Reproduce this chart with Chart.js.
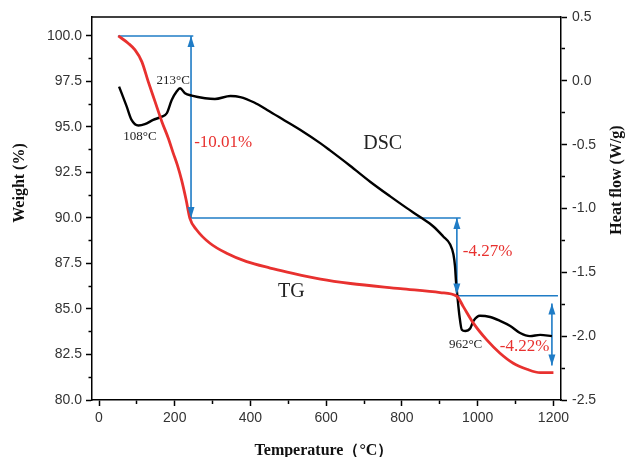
<!DOCTYPE html>
<html>
<head>
<meta charset="utf-8">
<script src="https://cdn.jsdelivr.net/npm/chart.js@4.4.1/dist/chart.umd.min.js"></script>
<style>
  body { margin: 0; background: #fff; }
</style>
</head>
<body>
<canvas id="tgCanvas" width="629" height="457"></canvas>
<script>
// TG curve (weight %, left axis)
var tgTemp = [51, 77, 95, 113, 130, 148, 166, 183, 196, 207, 218, 230, 240, 258, 293, 337, 390, 452, 497, 585, 664, 796, 901, 945, 962, 989, 1024, 1059, 1094, 1130, 1165, 1200];
var tgWeight = [100, 99.6, 99.23, 98.59, 97.49, 96.39, 95.29, 94.38, 93.56, 92.9, 92.09, 91.0, 89.98, 89.34, 88.61, 88.06, 87.6, 87.25, 87.03, 86.64, 86.4, 86.12, 85.9, 85.7, 85.13, 84.21, 83.3, 82.57, 82.02, 81.69, 81.5, 81.5];

// DSC curve (heat flow W/g, right axis)
var dscTemp = [53, 73, 86, 104, 121, 143, 166, 179, 192, 205, 214, 227, 245, 280, 306, 347, 373, 410, 444, 490, 532, 585, 610, 663, 716, 769, 813, 848, 883, 909, 927, 936, 940, 943, 946.5, 952, 958, 967, 980, 989, 1006, 1033, 1059, 1086, 1112, 1138, 1165, 1196];
var dscHeat = [-0.045, -0.2, -0.306, -0.35, -0.34, -0.306, -0.28, -0.254, -0.15, -0.084, -0.058, -0.097, -0.116, -0.136, -0.142, -0.119, -0.127, -0.17, -0.228, -0.31, -0.385, -0.49, -0.545, -0.665, -0.79, -0.905, -0.997, -1.067, -1.141, -1.219, -1.28, -1.36, -1.45, -1.58, -1.69, -1.845, -1.95, -1.96, -1.94, -1.88, -1.84, -1.85, -1.88, -1.92, -1.975, -2.0, -1.99, -2.0];

// weight loss steps (blue guides)
var stepLevel = [100, 90, 85.73];
var stepStart = [50, 243, 945];
var stepEnd = [249, 955, 1212];
var arrowTemp = [243, 945, 1196];
var arrowTop = [100, 90, 85.3];
var arrowBottom = [90, 85.8, 81.9];

var lossLabels = ['-10.01%', '-4.27%', '-4.22%'];
var peakLabels = ['108°C', '213°C', '962°C'];
var curveLabels = ['TG', 'DSC'];

var RED = '#e8312f';
var BLUE = '#1f7cc6';

function zip(xs, ys) {
  return xs.map(function (x, i) { return { x: x, y: ys[i] }; });
}

var datasets = [
  { data: zip(tgTemp, tgWeight), yAxisID: 'y', borderColor: RED, borderWidth: 2.8, pointRadius: 0, cubicInterpolationMode: 'monotone' },
  { data: zip(dscTemp, dscHeat), yAxisID: 'y2', borderColor: '#000', borderWidth: 2.4, pointRadius: 0, cubicInterpolationMode: 'monotone' }
];
stepLevel.forEach(function (lv, i) {
  datasets.push({ data: [{ x: stepStart[i], y: lv }, { x: stepEnd[i], y: lv }], yAxisID: 'y', borderColor: BLUE, borderWidth: 1.6, pointRadius: 0 });
  datasets.push({ data: [{ x: arrowTemp[i], y: arrowTop[i] }, { x: arrowTemp[i], y: arrowBottom[i] }], yAxisID: 'y', borderColor: BLUE, borderWidth: 1.6, pointRadius: 0 });
});

// annotation text placement (temperature, weight)
var notes = [
  { t: peakLabels[0], x: 108, y: 94.45, c: '#222', f: '13px "Liberation Serif"' },
  { t: peakLabels[1], x: 196, y: 97.53, c: '#222', f: '13px "Liberation Serif"' },
  { t: peakLabels[2], x: 968, y: 83.02, c: '#222', f: '13px "Liberation Serif"' },
  { t: lossLabels[0], x: 328, y: 94.12, c: RED, f: '17px "Liberation Serif"' },
  { t: lossLabels[1], x: 1026, y: 88.13, c: RED, f: '17px "Liberation Serif"' },
  { t: lossLabels[2], x: 1124, y: 82.91, c: RED, f: '17px "Liberation Serif"' },
  { t: curveLabels[0], x: 508, y: 85.93, c: '#222', f: '20px "Liberation Serif"' },
  { t: curveLabels[1], x: 749, y: 94.07, c: '#222', f: '20px "Liberation Serif"' }
];

var extras = {
  id: 'extras',
  afterDatasetsDraw: function (chart) {
    var ctx = chart.ctx, xs = chart.scales.x, ys = chart.scales.y, a = chart.chartArea;
    ctx.save();
    // top frame
    ctx.strokeStyle = '#000';
    ctx.lineWidth = 1.5;
    ctx.beginPath();
    ctx.moveTo(a.left, a.top);
    ctx.lineTo(a.right, a.top);
    ctx.stroke();
    // arrow heads
    ctx.fillStyle = BLUE;
    arrowTemp.forEach(function (t, i) {
      var px = xs.getPixelForValue(t);
      var top = ys.getPixelForValue(arrowTop[i]);
      var bot = ys.getPixelForValue(arrowBottom[i]);
      ctx.beginPath();
      ctx.moveTo(px, top); ctx.lineTo(px - 3.5, top + 11); ctx.lineTo(px + 3.5, top + 11); ctx.closePath(); ctx.fill();
      ctx.beginPath();
      ctx.moveTo(px, bot); ctx.lineTo(px - 3.5, bot - 11); ctx.lineTo(px + 3.5, bot - 11); ctx.closePath(); ctx.fill();
    });
    // labels
    ctx.textAlign = 'center';
    ctx.textBaseline = 'middle';
    notes.forEach(function (n) {
      ctx.fillStyle = n.c;
      ctx.font = n.f;
      ctx.fillText(n.t, xs.getPixelForValue(n.x), ys.getPixelForValue(n.y));
    });
    // axis titles
    ctx.fillStyle = '#111';
    ctx.font = 'bold 16px "Liberation Serif"';
    ctx.fillText('Temperature（°C）', 324, 451);
    ctx.save();
    ctx.translate(20, 183);
    ctx.rotate(-Math.PI / 2);
    ctx.fillText('Weight (%)', 0, 0);
    ctx.restore();
    ctx.save();
    ctx.translate(617, 180);
    ctx.rotate(-Math.PI / 2);
    ctx.fillText('Heat flow (W/g)', 0, 0);
    ctx.restore();
    ctx.restore();
  }
};

function isMajor(v, step) {
  var r = v / step;
  return Math.abs(r - Math.round(r)) < 1e-6;
}

var tickFont = { family: '"Liberation Sans", Arial', size: 14 };

var ctx = document.getElementById('tgCanvas').getContext('2d');
var chart = new Chart(ctx, {
  type: 'line',
  data: { datasets: datasets },
  plugins: [extras],
  options: {
    responsive: false,
    animation: false,
    layout: { padding: { top: 17, left: 0, right: 0, bottom: 0 } },
    plugins: { legend: { display: false }, tooltip: { enabled: false } },
    scales: {
      x: {
        type: 'linear', min: -18.5, max: 1220,
        afterFit: function (s) { s.height = 57; },
        border: { color: '#000', width: 1.5 },
        grid: {
          drawOnChartArea: false, tickLength: 6, tickColor: '#000', tickWidth: 1.5,
          tickBorderDash: function (c) { return c.tick && isMajor(c.tick.value, 200) ? [] : [3.5, 30]; }
        },
        ticks: {
          stepSize: 100, includeBounds: false, autoSkip: false, maxRotation: 0, padding: 4,
          color: '#333', font: tickFont,
          callback: function (v) { return isMajor(v, 200) ? String(v) : ''; }
        }
      },
      y: {
        type: 'linear', position: 'left', min: 80, max: 101.04,
        afterFit: function (s) { s.width = 92; },
        border: { color: '#000', width: 1.5 },
        grid: {
          drawOnChartArea: false, tickLength: 6, tickColor: '#000', tickWidth: 1.5,
          tickBorderDash: function (c) { return c.tick && isMajor(c.tick.value, 2.5) ? [] : [3.5, 30]; },
          tickBorderDashOffset: function (c) { return c.tick && isMajor(c.tick.value, 2.5) ? 0 : -2.5; }
        },
        ticks: {
          stepSize: 1.25, includeBounds: false, autoSkip: false, padding: 4,
          color: '#333', font: tickFont,
          callback: function (v) { return isMajor(v, 2.5) ? v.toFixed(1) : ''; }
        }
      },
      y2: {
        type: 'linear', position: 'right', min: -2.5, max: 0.5,
        afterFit: function (s) { s.width = 68; },
        border: { color: '#000', width: 1.5 },
        grid: {
          drawOnChartArea: false, tickLength: 6, tickColor: '#000', tickWidth: 1.5,
          tickBorderDash: function (c) { return c.tick && isMajor(c.tick.value, 0.5) ? [] : [3.5, 30]; }
        },
        ticks: {
          stepSize: 0.25, includeBounds: false, autoSkip: false, padding: 5,
          color: '#333', font: tickFont,
          callback: function (v) { return isMajor(v, 0.5) ? v.toFixed(1) : ''; }
        }
      }
    }
  }
});
</script>
</body>
</html>
